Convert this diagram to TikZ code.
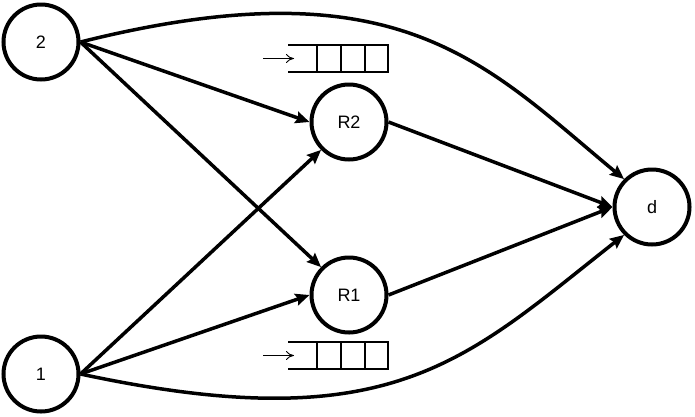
\documentclass[tikz,border=0pt]{standalone}
\usepackage{fontspec}
\setmainfont{Liberation Sans}
\usetikzlibrary{arrows.meta}
\tikzset{
  netnode/.style={circle,draw,line width=4pt,minimum size=75pt,inner sep=0pt,font=\fontsize{18pt}{20pt}\selectfont},
  link/.style={line width=3.5pt,-{Stealth[length=14pt,width=12pt,inset=2pt]}},
  queue/.style={line width=1.5pt},
  qarrow/.style={line width=0.9pt,-{To[length=8pt,width=9pt]}}
}
\begin{document}
\begin{tikzpicture}[x=1pt,y=-1pt]
\useasboundingbox (0,0) rectangle (695,416);
\node[netnode] (n2) at (41,42) {2};
\node[netnode] (n1) at (41,374) {1};
\node[netnode] (r2) at (349,122) {R2};
\node[netnode] (r1) at (349,295) {R1};
\node[netnode] (d) at (652,207) {d};

\draw[link] (n2.east) -- (r2.west);
\draw[link] (n2.east) -- (r1.north west);
\draw[link] (n1.east) -- (r2.south west);
\draw[link] (n1.east) -- (r1.west);
\draw[link] (r2.east) -- (d.west);
\draw[link] (r1.east) -- (d.west);
\draw[link] (n2.east) .. controls (400,-38) and (485,64) .. (d.north west);
\draw[link] (n1.east) .. controls (393,441) and (465,360) .. (d.south west);

% queue near R2
\coordinate (qa1) at (263,58.5);
\coordinate (qa2) at (294,58.5);
\draw[queue] (288,45) -- (388,45) -- (388,72) -- (288,72);
\draw[queue] (317,45) -- (317,72) (341,45) -- (341,72) (365,45) -- (365,72);
\draw[qarrow] (qa1) -- (qa2);

% queue near R1
\coordinate (qb1) at (263,355.5);
\coordinate (qb2) at (294,355.5);
\draw[queue] (288,342) -- (388,342) -- (388,369) -- (288,369);
\draw[queue] (317,342) -- (317,369) (341,342) -- (341,369) (365,342) -- (365,369);
\draw[qarrow] (qb1) -- (qb2);
\end{tikzpicture}
\end{document}
